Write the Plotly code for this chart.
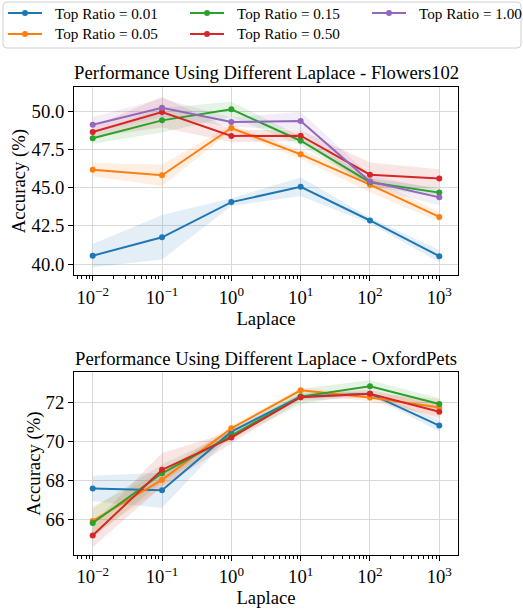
import plotly.graph_objects as go

# Laplace values (x axis, log scale)
laplace = [1e-2, 1e-1, 1e0, 1e1, 1e2, 1e3]
x_tick_text = ["10<sup>\u22122</sup>", "10<sup>\u22121</sup>", "10<sup>0</sup>",
               "10<sup>1</sup>", "10<sup>2</sup>", "10<sup>3</sup>"]

ratio_labels = ["Top Ratio = 0.01", "Top Ratio = 0.05", "Top Ratio = 0.15",
                "Top Ratio = 0.50", "Top Ratio = 1.00"]
colors = ["#1f77b4", "#ff7f0e", "#2ca02c", "#d62728", "#9467bd"]

# Flowers102: mean accuracy and spread per top ratio
flowers_r001 = [40.55, 41.75, 44.05, 45.05, 42.85, 40.52]
flowers_r005 = [46.17, 45.80, 48.89, 47.17, 45.19, 43.08]
flowers_r015 = [48.22, 49.39, 50.11, 48.06, 45.34, 44.67]
flowers_r050 = [48.63, 49.93, 48.37, 48.39, 45.84, 45.60]
flowers_r100 = [49.11, 50.22, 49.28, 49.35, 45.39, 44.36]
flowers_std001 = [0.76, 1.45, 0.25, 0.60, 0.20, 0.40]
flowers_std005 = [0.43, 0.70, 0.20, 0.30, 0.50, 0.30]
flowers_std015 = [0.35, 0.80, 0.50, 0.30, 0.25, 0.30]
flowers_std050 = [0.35, 1.00, 0.40, 0.35, 0.80, 0.60]
flowers_std100 = [0.50, 0.60, 0.30, 0.60, 0.40, 0.50]

# OxfordPets: mean accuracy and spread per top ratio
pets_r001 = [67.60, 67.51, 70.50, 72.29, 72.44, 70.81]
pets_r005 = [65.95, 68.04, 70.67, 72.61, 72.24, 71.73]
pets_r015 = [65.84, 68.38, 70.30, 72.29, 72.82, 71.91]
pets_r050 = [65.20, 68.56, 70.20, 72.26, 72.44, 71.52]
pets_std001 = [0.65, 0.90, 0.15, 0.15, 0.10, 0.30]
pets_std005 = [0.75, 0.40, 0.15, 0.10, 0.20, 0.45]
pets_std015 = [0.75, 0.45, 0.20, 0.40, 0.30, 0.30]
pets_std050 = [0.60, 0.85, 0.30, 0.20, 0.20, 0.35]

flowers = [
    (flowers_r001, flowers_std001),
    (flowers_r005, flowers_std005),
    (flowers_r015, flowers_std015),
    (flowers_r050, flowers_std050),
    (flowers_r100, flowers_std100),
]
pets = [
    (pets_r001, pets_std001),
    (pets_r005, pets_std005),
    (pets_r015, pets_std015),
    (pets_r050, pets_std050),
]

FONT = "Liberation Serif, Times New Roman, serif"
W, H = 523, 609
ML, MR, MT, MB = 74, 65, 87, 54
PW, PH = W - ML - MR, H - MT - MB


def px_to_paper(px, py):
    return (px - ML) / PW, 1 - (py - MT) / PH


def rgba(hex_color, a):
    h = hex_color.lstrip("#")
    r, g, b = int(h[0:2], 16), int(h[2:4], 16), int(h[4:6], 16)
    return f"rgba({r},{g},{b},{a})"


fig = go.Figure()


def add_panel(series, xa, ya):
    for i, (mean, std) in enumerate(series):
        upper = [m + s for m, s in zip(mean, std)]
        lower = [m - s for m, s in zip(mean, std)]
        fig.add_trace(go.Scatter(
            x=laplace, y=upper, xaxis=xa, yaxis=ya, mode="lines",
            line=dict(width=0), hoverinfo="skip", showlegend=False))
        fig.add_trace(go.Scatter(
            x=laplace, y=lower, xaxis=xa, yaxis=ya, mode="lines",
            line=dict(width=0), fill="tonexty",
            fillcolor=rgba(colors[i], 0.12), hoverinfo="skip", showlegend=False))
    for i, (mean, std) in enumerate(series):
        fig.add_trace(go.Scatter(
            x=laplace, y=mean, xaxis=xa, yaxis=ya, mode="lines+markers",
            name=ratio_labels[i],
            line=dict(color=colors[i], width=2),
            marker=dict(color=colors[i], size=6),
            showlegend=False))


add_panel(flowers, "x", "y")
add_panel(pets, "x2", "y2")

# minor ticks for the log axis
minor_vals = []
for k in range(-3, 4):
    for m in range(2, 10):
        v = m * 10 ** k
        if 10 ** -2.27 <= v <= 10 ** 3.27:
            minor_vals.append(v)

xaxis_common = dict(
    type="log", range=[-2.27, 3.27],
    tickmode="array", tickvals=laplace, ticktext=x_tick_text,
    ticks="outside", ticklen=5, tickwidth=1, tickcolor="black",
    showline=True, linecolor="black", linewidth=1, mirror=True,
    showgrid=True, gridcolor="#d9d9d9", gridwidth=1,
    zeroline=False,
    tickfont=dict(family=FONT, size=18.7, color="black"),
    title=dict(text="Laplace", font=dict(family=FONT, size=18.7, color="black"), standoff=2),
    minor=dict(tickmode="array", tickvals=minor_vals, ticks="outside",
               ticklen=2.5, tickwidth=0.8, tickcolor="black", showgrid=False),
)
yaxis_common = dict(
    ticks="outside", ticklen=5, tickwidth=1, tickcolor="black",
    showline=True, linecolor="black", linewidth=1, mirror=True,
    showgrid=True, gridcolor="#d9d9d9", gridwidth=1,
    zeroline=False,
    tickfont=dict(family=FONT, size=18.7, color="black"),
    title=dict(text="Accuracy (%)", font=dict(family=FONT, size=18.7, color="black"), standoff=0),
)

# legend: 3 columns x 2 rows (column-major), drawn as shapes + text
shapes = []
annotations = []

x0, y1 = px_to_paper(3, 2)
x1, y0 = px_to_paper(521, 48)
rx, ry = 4 / PW, 4 / PH
frame_path = (
    f"M {x0+rx},{y0} L {x1-rx},{y0} Q {x1},{y0} {x1},{y0+ry} "
    f"L {x1},{y1-ry} Q {x1},{y1} {x1-rx},{y1} "
    f"L {x0+rx},{y1} Q {x0},{y1} {x0},{y1-ry} "
    f"L {x0},{y0+ry} Q {x0},{y0} {x0+rx},{y0} Z"
)
shapes.append(dict(type="path", xref="paper", yref="paper", path=frame_path,
                   line=dict(color="#d0d0d0", width=1),
                   fillcolor="rgba(255,255,255,0.8)", layer="above"))

col_x = [8, 190, 372]
row_y = [13, 34]
for i, label in enumerate(ratio_labels):
    c, r = divmod(i, 2)
    lx, ly = col_x[c], row_y[r]
    ax0, ay = px_to_paper(lx, ly)
    ax1, _ = px_to_paper(lx + 34, ly)
    shapes.append(dict(type="line", xref="paper", yref="paper",
                       x0=ax0, x1=ax1, y0=ay, y1=ay,
                       line=dict(color=colors[i], width=2), layer="above"))
    cx0, cy0 = px_to_paper(lx + 17 - 3, ly + 3)
    cx1, cy1 = px_to_paper(lx + 17 + 3, ly - 3)
    shapes.append(dict(type="circle", xref="paper", yref="paper",
                       x0=cx0, x1=cx1, y0=cy0, y1=cy1,
                       line=dict(color=colors[i], width=0),
                       fillcolor=colors[i], layer="above"))
    tx, ty = px_to_paper(lx + 45, ly)
    annotations.append(dict(text=label, xref="paper", yref="paper",
                            x=tx, y=ty, xanchor="left", yanchor="middle",
                            showarrow=False,
                            font=dict(family=FONT, size=15.2, color="black")))

annotations.append(dict(
    text="Performance Using Different Laplace - Flowers102",
    xref="paper", yref="paper", x=0.5, y=px_to_paper(0, 72)[1],
    xanchor="center", yanchor="middle", showarrow=False,
    font=dict(family=FONT, size=18.7, color="black")))
annotations.append(dict(
    text="Performance Using Different Laplace - OxfordPets",
    xref="paper", yref="paper", x=0.5, y=px_to_paper(0, 358)[1],
    xanchor="center", yanchor="middle", showarrow=False,
    font=dict(family=FONT, size=18.7, color="black")))

fig.update_layout(
    width=W, height=H,
    margin=dict(l=ML, r=MR, t=MT, b=MB, autoexpand=False),
    paper_bgcolor="white", plot_bgcolor="white",
    font=dict(family=FONT, color="black"),
    xaxis=dict(xaxis_common, domain=[0, 1], anchor="y"),
    yaxis=dict(yaxis_common, domain=[0.5977, 1], anchor="x",
               range=[39.27, 51.57], tickvals=[40, 42.5, 45, 47.5, 50],
               ticktext=["40.0", "42.5", "45.0", "47.5", "50.0"]),
    xaxis2=dict(xaxis_common, domain=[0, 1], anchor="y2"),
    yaxis2=dict(yaxis_common, domain=[0, 0.3904], anchor="x2",
                range=[64.21, 73.53], tickvals=[66, 68, 70, 72]),
    shapes=shapes,
    annotations=annotations,
    showlegend=False,
)

fig.write_html("out.html")
